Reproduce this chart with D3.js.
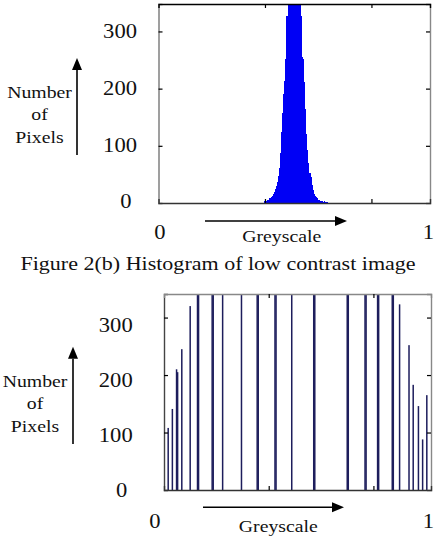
<!DOCTYPE html>
<html>
<head>
<meta charset="utf-8">
<script src="https://cdn.jsdelivr.net/npm/d3@7"></script>
<style>
    body { margin: 0; background: #fff; }
</style>
</head>
<body>
<div id="chart"></div>
<script>

// low contrast image histogram (bin index 0..255)
const lowBins = [100, 101, 102, 103, 104, 105, 106, 107, 108, 109, 110, 111, 112, 113, 114, 115, 116, 117, 118, 119,
    120, 121, 122, 123, 124, 125, 126, 127, 128, 129, 130, 131, 132, 133, 134, 135, 136, 137, 138, 139,
    140, 141, 142, 143, 144, 145, 146, 147, 148, 149, 150, 151, 152, 153, 154, 155, 156, 157, 158];
const lowCounts = [3, 4, 3, 5, 6, 8, 10, 12, 15, 19, 24, 29, 36, 47, 62, 88, 125, 158, 190, 214,
    252, 327, 410, 500, 590, 660, 710, 740, 745, 720, 670, 600, 520, 430, 327, 255, 252, 212, 165, 120,
    92, 70, 52, 45, 31, 22, 15, 12, 10, 8, 6, 5, 4, 3, 4, 2, 3, 2, 1];

// equalised image histogram
const eqBins = [4, 8, 12, 13, 17, 25, 32, 33, 46, 47, 56, 74, 89, 90, 106, 107, 122, 143, 144,
    175, 176, 192, 193, 204, 205, 218, 219, 225, 234, 238, 243, 247, 251];
const eqCounts = [108, 141, 210, 205, 245, 320, 455, 430, 470, 445, 420, 410, 480, 450, 470, 440, 400, 520, 490,
    560, 530, 470, 450, 500, 470, 430, 410, 323, 252, 183, 146, 88, 165];

// tick labels / text
const yTickValues = [0, 100, 200, 300];
const xTickValues = [100, 200];
const xEndLabels = ["0", "1"];
const yTitleLines = ["Number", "of", "Pixels"];
const xTitle = "Greyscale";
const captionText = "Figure 2(b) Histogram of low contrast image";

// the scanned figure is a bit wider than normal Times
const stretch = 1.13;
const serif = "'Liberation Serif', 'Times New Roman', Times, serif";

const svg = d3.select("#chart").append("svg")
    .attr("width", 434)
    .attr("height", 538)
    .style("background", "#fff");

function addText(g, str, x, y, size, anchor) {
    return g.append("text")
        .attr("transform", `translate(${x},${y}) scale(${stretch},1)`)
        .attr("text-anchor", anchor || "middle")
        .attr("font-family", serif)
        .attr("font-size", size + "px")
        .attr("fill", "#111")
        .text(str);
}

function addArrow(g, x1, y1, x2, y2) {
    // arrow pointing from (x1,y1) to (x2,y2)
    let ang = Math.atan2(y2 - y1, x2 - x1);
    let len = 12, half = 5;
    let bx = x2 - len * Math.cos(ang), by = y2 - len * Math.sin(ang);
    g.append("line")
        .attr("x1", x1).attr("y1", y1).attr("x2", bx).attr("y2", by)
        .attr("stroke", "#000").attr("stroke-width", 1.6);
    let px = -Math.sin(ang) * half, py = Math.cos(ang) * half;
    g.append("path")
        .attr("d", `M${x2},${y2}L${bx + px},${by + py}L${bx - px},${by - py}Z`)
        .attr("fill", "#000");
}

class HistVis {

    constructor(svg, cfg, bins, counts) {
        this.svg = svg;
        this.cfg = cfg;
        this.bins = bins;
        this.counts = counts;
        this.initVis();
    }

    initVis() {
        let vis = this;
        let c = vis.cfg;

        vis.g = vis.svg.append("g").attr("class", c.id);

        vis.x = d3.scaleLinear().domain([0, 255]).range([c.left, c.right]);
        vis.y = d3.scaleLinear().domain([0, c.yMax]).range([c.bottom, c.top]);
        vis.labelY = d3.scaleLinear().domain([0, 300]).range(c.labelRange);

        vis.g.append("clipPath").attr("id", "clip-" + c.id)
            .append("rect")
            .attr("x", c.left).attr("y", c.top)
            .attr("width", c.right - c.left).attr("height", c.bottom - c.top);

        vis.updateVis();
    }

    updateVis() {
        let vis = this;
        let c = vis.cfg;
        let data = vis.bins.map((b, i) => ({bin: b, count: vis.counts[i]}));

        let plot = vis.g.append("g").attr("clip-path", `url(#clip-${c.id})`);
        let bw = c.barWidth || (vis.x(1) - vis.x(0) + 0.6);

        plot.selectAll(".bar")
            .data(data)
            .enter()
            .append("rect")
            .attr("class", "bar")
            .attr("x", d => vis.x(d.bin) - bw / 2)
            .attr("y", d => vis.y(d.count))
            .attr("width", bw)
            .attr("height", d => vis.y(0) - vis.y(d.count))
            .attr("fill", c.color)
            .attr("shape-rendering", c.barWidth ? "auto" : "crispEdges");

        // axes box, ticks inside on all sides
        let tick = 4;
        let axes = vis.g.append("g");
        axes.append("g")
            .attr("transform", `translate(${c.left},0)`)
            .call(d3.axisRight(vis.y).tickValues(yTickValues.slice(1)).tickSize(tick).tickFormat(""))
            .call(g => g.select(".domain").attr("stroke", c.leftStroke));
        axes.append("g")
            .attr("transform", `translate(${c.right},0)`)
            .call(d3.axisLeft(vis.y).tickValues(yTickValues.slice(1)).tickSize(tick).tickFormat(""))
            .call(g => g.select(".domain").attr("stroke", "#888"));
        axes.append("g")
            .attr("transform", `translate(0,${c.bottom})`)
            .call(d3.axisTop(vis.x).tickValues(xTickValues).tickSize(tick).tickFormat(""))
            .call(g => g.select(".domain").attr("stroke", "#333"));
        axes.append("g")
            .attr("transform", `translate(0,${c.top})`)
            .call(d3.axisBottom(vis.x).tickValues(xTickValues).tickSize(tick).tickFormat(""))
            .call(g => g.select(".domain").attr("stroke", c.topStroke));
        axes.selectAll(".domain").attr("stroke-width", 1.4);
        axes.selectAll(".tick line").attr("stroke", "#000").attr("stroke-width", 1.2);

        // y tick labels
        yTickValues.forEach(v => {
            addText(vis.g, v, c.labelX + (v === 0 ? -5.5 : 0), vis.labelY(v), 20, "end");
        });

        // x end labels
        addText(vis.g, xEndLabels[0], c.zeroX, c.endLabelY, 20);
        addText(vis.g, xEndLabels[1], 428.5, c.endLabelY, 20);

        // greyscale arrow + title
        addArrow(vis.g, c.hArrow[0], c.hArrow[2], c.hArrow[1], c.hArrow[2]);
        addText(vis.g, xTitle, c.xTitlePos[0], c.xTitlePos[1], 17.5);

        // number of pixels arrow + title
        addArrow(vis.g, c.vArrow[0], c.vArrow[1], c.vArrow[0], c.vArrow[2]);
        yTitleLines.forEach((t, i) => {
            addText(vis.g, t, c.yTitleX, c.yTitleY + i * 22.5, 17.5);
        });
    }
}

const topChart = new HistVis(svg, {
    id: "low",
    left: 158.5, right: 430, top: 4, bottom: 203, yMax: 348,
    color: "#0000f5",
    leftStroke: "#777", topStroke: "#000",
    labelRange: [208.3, 38.3], labelX: 137,
    zeroX: 160, endLabelY: 239,
    hArrow: [205, 347, 221], xTitlePos: [281.7, 242.4],
    vArrow: [77, 155, 58], yTitleX: 39.5, yTitleY: 97.7
}, lowBins, lowCounts);

const bottomChart = new HistVis(svg, {
    id: "eq",
    left: 164, right: 431, top: 294, bottom: 490, yMax: 341,
    color: "#1d1d5c", barWidth: 1.5,
    leftStroke: "#444", topStroke: "#888",
    labelRange: [496.7, 331.7], labelX: 132.7,
    zeroX: 155, endLabelY: 528,
    hArrow: [203, 344, 507.3], xTitlePos: [278.3, 532.4],
    vArrow: [73, 444, 346.7], yTitleX: 35, yTitleY: 386.7
}, eqBins, eqCounts);

// caption between the two plots
addText(svg, captionText, 218, 270, 19.5);

</script>
</body>
</html>
